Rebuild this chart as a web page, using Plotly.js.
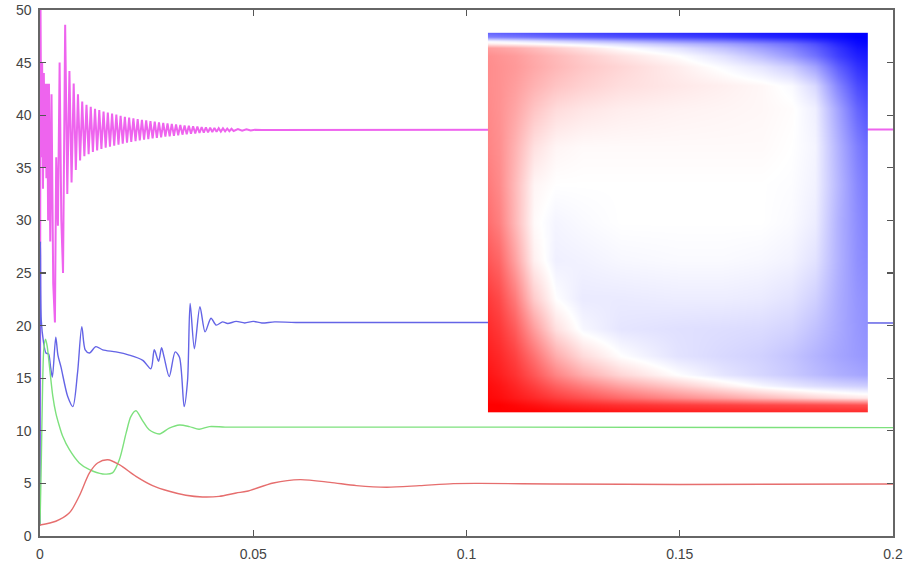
<!DOCTYPE html>
<html>
<head>
<meta charset="utf-8">
<script src="https://cdn.plot.ly/plotly-3.0.1.min.js"></script>
<style>html,body{margin:0;padding:0;background:#fff;}#chart{width:904px;height:565px;}</style>
</head>
<body>
<div id="chart"></div>
<script>
// ---- data ----
const xTickVals = [0, 0.05, 0.1, 0.15, 0.2];
const xTickText = ['0', '0.05', '0.1', '0.15', '0.2'];
const yTickVals = [0, 5, 10, 15, 20, 25, 30, 35, 40, 45, 50];

const redX = [0, 0.0037, 0.0069, 0.0092, 0.0116, 0.0135, 0.0159, 0.0186, 0.0225, 0.0264, 0.0303, 0.0342, 0.0381, 0.042, 0.046, 0.0485, 0.0547, 0.061, 0.068, 0.0742, 0.0813, 0.089, 0.0969, 0.103, 0.12, 0.15, 0.2];
const redY = [1.05, 1.4, 2.2, 3.8, 6.0, 6.94, 7.25, 6.78, 5.67, 4.79, 4.25, 3.87, 3.71, 3.77, 4.09, 4.25, 5.04, 5.36, 5.1, 4.79, 4.63, 4.79, 4.98, 5.0, 4.95, 4.9, 4.95];

const greenX = [0, 0.0003, 0.0006, 0.0009, 0.0013, 0.0017, 0.0022, 0.003, 0.0037, 0.0045, 0.0053, 0.0069, 0.0092, 0.0116, 0.0147, 0.017, 0.0186, 0.0202, 0.0213, 0.0225, 0.024, 0.0256, 0.028, 0.0303, 0.0327, 0.035, 0.0373, 0.0397, 0.0434, 0.05, 0.1, 0.2];
const greenY = [1, 7, 14, 17.8, 18.7, 18, 16.2, 13.3, 11.7, 10.5, 9.5, 8.2, 6.95, 6.3, 5.9, 6.0, 7.25, 9.8, 11.35, 11.9, 11.0, 10.1, 9.7, 10.25, 10.55, 10.4, 10.15, 10.4, 10.35, 10.35, 10.35, 10.3];

const blueX = [0, 0.0001, 0.0003, 0.0008, 0.0014, 0.002, 0.0025, 0.0029, 0.0037, 0.0042, 0.0049, 0.0065, 0.0077, 0.0088, 0.0098, 0.0106, 0.0116, 0.0131, 0.0147, 0.0178, 0.0209, 0.0241, 0.026, 0.0268, 0.0278, 0.0285, 0.0291, 0.0303, 0.0317, 0.0327, 0.0338, 0.0346, 0.0352, 0.0362, 0.0375, 0.0387, 0.0401, 0.0413, 0.0428, 0.044, 0.046, 0.048, 0.05, 0.052, 0.055, 0.06, 0.1, 0.2];
const blueY = [1, 28, 20.5, 18.5, 17.4, 17.3, 16.0, 15.1, 18.9, 17.2, 16.1, 13.25, 12.3, 15.5, 19.9, 17.7, 17.4, 18.0, 17.7, 17.5, 17.2, 16.7, 15.9, 17.7, 16.6, 17.9, 17.0, 15.15, 17.5, 17.0, 12.3, 14.8, 22.1, 17.8, 21.8, 19.4, 20.7, 20.05, 20.35, 20.2, 20.4, 20.25, 20.4, 20.25, 20.35, 20.3, 20.3, 20.25];

const magentaX = [0, 0.0001, 0.0003, 0.0005, 0.0007, 0.0009, 0.0011, 0.0013, 0.0015, 0.0017, 0.0019, 0.0021, 0.0024, 0.0027, 0.0031, 0.0035, 0.0038, 0.0042, 0.0046, 0.005, 0.0054, 0.0059,
  0.0064, 0.0069, 0.0074, 0.0079, 0.0084, 0.0089, 0.0094, 0.0099, 0.0104, 0.0109, 0.0114, 0.0119, 0.0124, 0.0129, 0.0134, 0.0139, 0.0144, 0.0149, 0.0154, 0.0159, 0.0164, 0.0169, 0.0174, 0.0179, 0.0184, 0.0189, 0.0194, 0.0199,
  0.0204, 0.0209, 0.0214, 0.0219, 0.0224, 0.0229, 0.0234, 0.0239, 0.0244, 0.0249, 0.0254, 0.0259, 0.0264, 0.0269, 0.0274, 0.0279, 0.0284, 0.0289, 0.0294, 0.0299,
  0.0304, 0.0309, 0.0314, 0.0319, 0.0324, 0.0329, 0.0334, 0.0339, 0.0344, 0.0349, 0.0354, 0.0359, 0.0364, 0.0369, 0.0374, 0.0379, 0.0384, 0.0389, 0.0394, 0.0399,
  0.0404, 0.0409, 0.0414, 0.0419, 0.0424, 0.0429, 0.0434, 0.0439, 0.0444, 0.0449, 0.0454, 0.0464, 0.0474, 0.0484, 0.0494, 0.0504, 0.052, 0.2];
const magentaY = [1, 52, 36, 45, 33, 44, 35, 43, 34, 43, 30, 43, 28, 42, 24, 20.3, 36, 29.5, 45, 30, 25, 48.6,
  32.5, 44.2, 33.6, 43.0, 34.8, 42.0, 35.7, 41.3, 36.1, 41.0, 36.3, 40.8, 36.5, 40.6, 36.65, 40.5, 36.8, 40.35, 36.9, 40.25, 37.0, 40.15, 37.1, 40.05, 37.2, 39.95, 37.3, 39.85,
  37.4, 39.77, 37.47, 39.7, 37.54, 39.62, 37.61, 39.56, 37.67, 39.5, 37.73, 39.44, 37.79, 39.38, 37.85, 39.32, 37.9, 39.27, 37.96, 39.22,
  38.0, 39.17, 38.05, 39.13, 38.1, 39.08, 38.15, 39.03, 38.19, 38.99, 38.23, 38.95, 38.27, 38.91, 38.31, 38.87, 38.34, 38.84, 38.37, 38.81,
  38.4, 38.79, 38.42, 38.77, 38.44, 38.75, 38.46, 38.73, 38.48, 38.71, 38.5, 38.68, 38.52, 38.66, 38.54, 38.62, 38.6, 38.65];

// inset field (normalised coordinates across / up the inset, red = +1, blue = -1)
const heatU = [0, 0.03, 0.07, 0.12, 0.18, 0.25, 0.35, 0.5, 0.62, 0.72, 0.8, 0.86, 0.92, 0.97, 1];
const heatV = [0, 0.02, 0.04, 0.07, 0.1, 0.15, 0.22, 0.3, 0.4, 0.5, 0.6, 0.7, 0.8, 0.86, 0.91, 0.94, 0.96, 0.97, 0.98, 0.99, 1];
const heatZ = [
  [1, 1, 1, 1, 0.98, 0.96, 0.93, 0.9, 0.88, 0.87, 0.86, 0.86, 0.85, 0.85, 0.85],
  [1, 1, 0.97, 0.93, 0.88, 0.84, 0.8, 0.76, 0.74, 0.72, 0.71, 0.7, 0.69, 0.68, 0.68],
  [0.97, 0.95, 0.9, 0.84, 0.76, 0.68, 0.58, 0.45, 0.36, 0.28, 0.22, 0.17, 0.13, 0.1, 0.09],
  [0.95, 0.92, 0.85, 0.75, 0.62, 0.5, 0.36, 0.2, 0.07, -0.03, -0.09, -0.13, -0.16, -0.18, -0.19],
  [0.92, 0.88, 0.8, 0.66, 0.48, 0.32, 0.16, 0.0, -0.1, -0.16, -0.21, -0.26, -0.31, -0.34, -0.36],
  [0.88, 0.84, 0.74, 0.55, 0.32, 0.14, 0.0, -0.11, -0.15, -0.18, -0.23, -0.29, -0.35, -0.39, -0.41],
  [0.83, 0.78, 0.64, 0.38, 0.12, -0.03, -0.1, -0.12, -0.13, -0.14, -0.17, -0.24, -0.33, -0.4, -0.43],
  [0.77, 0.71, 0.52, 0.2, 0.0, -0.08, -0.08, -0.07, -0.07, -0.08, -0.11, -0.18, -0.32, -0.41, -0.44],
  [0.66, 0.6, 0.37, 0.06, -0.06, -0.05, -0.03, -0.02, -0.02, -0.03, -0.05, -0.11, -0.3, -0.43, -0.47],
  [0.57, 0.5, 0.28, 0.02, -0.04, -0.02, 0, 0, 0, 0, -0.02, -0.07, -0.3, -0.44, -0.5],
  [0.52, 0.46, 0.27, 0.04, 0.0, 0, 0, 0, 0, 0, -0.01, -0.05, -0.28, -0.46, -0.53],
  [0.48, 0.44, 0.3, 0.12, 0.04, 0.02, 0.02, 0.02, 0.02, 0.02, 0.0, -0.04, -0.3, -0.5, -0.58],
  [0.46, 0.43, 0.35, 0.23, 0.14, 0.1, 0.07, 0.05, 0.04, 0.03, 0.01, -0.06, -0.36, -0.6, -0.68],
  [0.45, 0.43, 0.38, 0.3, 0.23, 0.18, 0.13, 0.09, 0.06, 0.03, -0.02, -0.15, -0.48, -0.7, -0.76],
  [0.45, 0.43, 0.4, 0.34, 0.28, 0.22, 0.16, 0.07, -0.02, -0.1, -0.2, -0.36, -0.63, -0.8, -0.85],
  [0.44, 0.42, 0.39, 0.33, 0.27, 0.2, 0.11, 0.0, -0.12, -0.26, -0.4, -0.55, -0.75, -0.87, -0.9],
  [0.38, 0.36, 0.32, 0.26, 0.19, 0.11, 0.0, -0.12, -0.25, -0.38, -0.5, -0.63, -0.8, -0.92, -0.94],
  [0.08, 0.07, 0.05, 0.02, -0.02, -0.07, -0.14, -0.26, -0.36, -0.47, -0.57, -0.69, -0.85, -0.95, -0.97],
  [-0.05, -0.07, -0.1, -0.14, -0.19, -0.25, -0.33, -0.45, -0.53, -0.62, -0.7, -0.79, -0.9, -0.97, -0.99],
  [-0.5, -0.51, -0.53, -0.56, -0.6, -0.63, -0.68, -0.73, -0.78, -0.84, -0.88, -0.92, -0.96, -1, -1],
  [-0.6, -0.62, -0.64, -0.67, -0.7, -0.73, -0.77, -0.82, -0.86, -0.9, -0.93, -0.96, -0.98, -1, -1]
];

// ---- chart ----
const lineTrace = (x, y, color, shape, width) => ({
  type: 'scatter', mode: 'lines', x: x, y: y, xaxis: 'x', yaxis: 'y',
  line: {color: color, width: width, shape: shape, smoothing: 0.8},
  hoverinfo: 'skip', showlegend: false
});

const traces = [
  lineTrace(magentaX, magentaY, 'rgb(238,100,238)', 'linear', 2),
  lineTrace(blueX, blueY, 'rgb(100,100,230)', 'spline', 1.4),
  lineTrace(greenX, greenY, 'rgb(125,225,125)', 'spline', 1.4),
  lineTrace(redX, redY, 'rgb(230,110,110)', 'spline', 1.4),
  {
    type: 'heatmap', x: heatU, y: heatV, z: heatZ, xaxis: 'x2', yaxis: 'y2',
    zmin: -1, zmax: 1, zsmooth: 'best', showscale: false, hoverinfo: 'skip',
    colorscale: [[0, 'rgb(0,0,255)'], [0.5, 'rgb(255,255,255)'], [1, 'rgb(255,0,0)']]
  }
];

const axisFont = {family: 'Liberation Sans, Arial, sans-serif', size: 14, color: '#444'};
const layout = {
  width: 904, height: 565,
  margin: {l: 40, r: 11, t: 10, b: 29, pad: 0},
  paper_bgcolor: '#fff', plot_bgcolor: 'rgba(0,0,0,0)',
  showlegend: false,
  xaxis: {
    range: [0, 0.2], tickvals: xTickVals, ticktext: xTickText,
    ticks: 'inside', ticklen: 6, tickwidth: 1.3, tickcolor: '#555',
    showline: true, linecolor: '#666', linewidth: 1.6, mirror: 'ticks',
    showgrid: false, zeroline: false, tickfont: axisFont, ticklabelstandoff: 5
  },
  yaxis: {
    range: [0, 50], tickvals: yTickVals,
    ticks: 'inside', ticklen: 6, tickwidth: 1.3, tickcolor: '#555',
    showline: true, linecolor: '#666', linewidth: 1.6, mirror: 'ticks',
    showgrid: false, zeroline: false, tickfont: axisFont, ticklabelstandoff: 4
  },
  xaxis2: {domain: [0.525, 0.971], range: [0, 1], visible: false, anchor: 'y2', fixedrange: true},
  yaxis2: {domain: [0.2348, 0.957], range: [0, 1], visible: false, anchor: 'x2', fixedrange: true}
};

Plotly.newPlot('chart', traces, layout, {staticPlot: true, displayModeBar: false});
</script>
</body>
</html>
